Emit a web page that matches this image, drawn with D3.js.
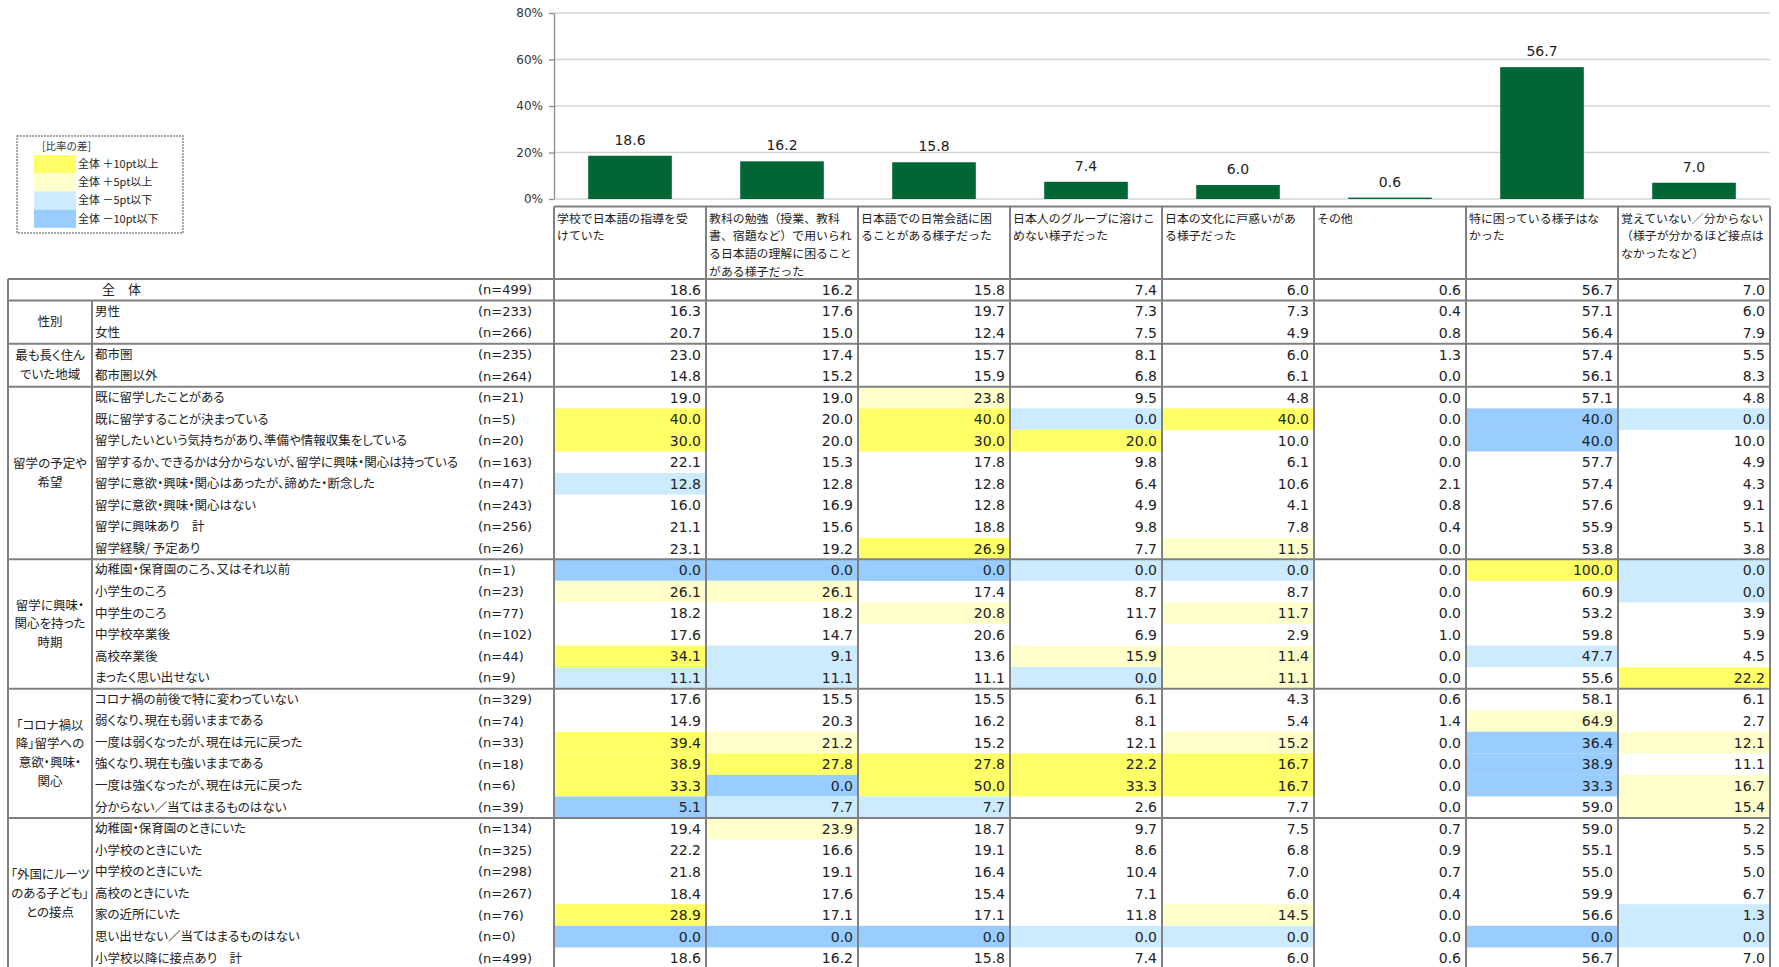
<!DOCTYPE html>
<html><head><meta charset="utf-8">
<script src="https://cdn.jsdelivr.net/npm/d3@7"></script>
<style>
body{margin:0;background:#fff;}
svg{display:block;}
</style></head><body>
<svg id="chart" width="1779" height="967"></svg>
<script>
// ---------- DATA ----------
const columns = [
  "学校で日本語の指導を受けていた",
  "教科の勉強（授業、教科書、宿題など）で用いられる日本語の理解に困ることがある様子だった",
  "日本語での日常会話に困ることがある様子だった",
  "日本人のグループに溶けこめない様子だった",
  "日本の文化に戸惑いがある様子だった",
  "その他",
  "特に困っている様子はなかった",
  "覚えていない／分からない（様子が分かるほど接点はなかったなど）"
];
const headerLines = [
  ["学校で日本語の指導を受", "けていた"],
  ["教科の勉強（授業、教科", "書、宿題など）で用いられ", "る日本語の理解に困ること", "がある様子だった"],
  ["日本語での日常会話に困", "ることがある様子だった"],
  ["日本人のグループに溶けこ", "めない様子だった"],
  ["日本の文化に戸惑いがあ", "る様子だった"],
  ["その他"],
  ["特に困っている様子はな", "かった"],
  ["覚えていない／分からない", "（様子が分かるほど接点は", "なかったなど）"]
];
const overall = [18.6, 16.2, 15.8, 7.4, 6.0, 0.6, 56.7, 7.0];
const yTicks = [0, 20, 40, 60, 80];

const groupLabels = [
  ["全　体"],
  ["性別"],
  ["最も長く住ん", "でいた地域"],
  ["留学の予定や", "希望"],
  ["留学に興味・", "関心を持った", "時期"],
  ["「コロナ禍以", "降」留学への", "意欲・興味・", "関心"],
  ["「外国にルーツ", "のある子ども」", "との接点"]
];
const groupSizes = [1, 2, 2, 8, 6, 6, 7];

const rowLabels = [
  "",
  "男性", "女性",
  "都市圏", "都市圏以外",
  "既に留学したことがある",
  "既に留学することが決まっている",
  "留学したいという気持ちがあり、準備や情報収集をしている",
  "留学するか、できるかは分からないが、留学に興味・関心は持っている",
  "留学に意欲・興味・関心はあったが、諦めた・断念した",
  "留学に意欲・興味・関心はない",
  "留学に興味あり　計",
  "留学経験/ 予定あり",
  "幼稚園・保育園のころ、又はそれ以前",
  "小学生のころ",
  "中学生のころ",
  "中学校卒業後",
  "高校卒業後",
  "まったく思い出せない",
  "コロナ禍の前後で特に変わっていない",
  "弱くなり、現在も弱いままである",
  "一度は弱くなったが、現在は元に戻った",
  "強くなり、現在も強いままである",
  "一度は強くなったが、現在は元に戻った",
  "分からない／当てはまるものはない",
  "幼稚園・保育園のときにいた",
  "小学校のときにいた",
  "中学校のときにいた",
  "高校のときにいた",
  "家の近所にいた",
  "思い出せない／当てはまるものはない",
  "小学校以降に接点あり　計"
];
const rowN = [499, 233, 266, 235, 264, 21, 5, 20, 163, 47, 243, 256, 26,
  1, 23, 77, 102, 44, 9, 329, 74, 33, 18, 6, 39, 134, 325, 298, 267, 76, 0, 499];

const rowValues = [
  [18.6, 16.2, 15.8, 7.4, 6.0, 0.6, 56.7, 7.0],
  [16.3, 17.6, 19.7, 7.3, 7.3, 0.4, 57.1, 6.0],
  [20.7, 15.0, 12.4, 7.5, 4.9, 0.8, 56.4, 7.9],
  [23.0, 17.4, 15.7, 8.1, 6.0, 1.3, 57.4, 5.5],
  [14.8, 15.2, 15.9, 6.8, 6.1, 0.0, 56.1, 8.3],
  [19.0, 19.0, 23.8, 9.5, 4.8, 0.0, 57.1, 4.8],
  [40.0, 20.0, 40.0, 0.0, 40.0, 0.0, 40.0, 0.0],
  [30.0, 20.0, 30.0, 20.0, 10.0, 0.0, 40.0, 10.0],
  [22.1, 15.3, 17.8, 9.8, 6.1, 0.0, 57.7, 4.9],
  [12.8, 12.8, 12.8, 6.4, 10.6, 2.1, 57.4, 4.3],
  [16.0, 16.9, 12.8, 4.9, 4.1, 0.8, 57.6, 9.1],
  [21.1, 15.6, 18.8, 9.8, 7.8, 0.4, 55.9, 5.1],
  [23.1, 19.2, 26.9, 7.7, 11.5, 0.0, 53.8, 3.8],
  [0.0, 0.0, 0.0, 0.0, 0.0, 0.0, 100.0, 0.0],
  [26.1, 26.1, 17.4, 8.7, 8.7, 0.0, 60.9, 0.0],
  [18.2, 18.2, 20.8, 11.7, 11.7, 0.0, 53.2, 3.9],
  [17.6, 14.7, 20.6, 6.9, 2.9, 1.0, 59.8, 5.9],
  [34.1, 9.1, 13.6, 15.9, 11.4, 0.0, 47.7, 4.5],
  [11.1, 11.1, 11.1, 0.0, 11.1, 0.0, 55.6, 22.2],
  [17.6, 15.5, 15.5, 6.1, 4.3, 0.6, 58.1, 6.1],
  [14.9, 20.3, 16.2, 8.1, 5.4, 1.4, 64.9, 2.7],
  [39.4, 21.2, 15.2, 12.1, 15.2, 0.0, 36.4, 12.1],
  [38.9, 27.8, 27.8, 22.2, 16.7, 0.0, 38.9, 11.1],
  [33.3, 0.0, 50.0, 33.3, 16.7, 0.0, 33.3, 16.7],
  [5.1, 7.7, 7.7, 2.6, 7.7, 0.0, 59.0, 15.4],
  [19.4, 23.9, 18.7, 9.7, 7.5, 0.7, 59.0, 5.2],
  [22.2, 16.6, 19.1, 8.6, 6.8, 0.9, 55.1, 5.5],
  [21.8, 19.1, 16.4, 10.4, 7.0, 0.7, 55.0, 5.0],
  [18.4, 17.6, 15.4, 7.1, 6.0, 0.4, 59.9, 6.7],
  [28.9, 17.1, 17.1, 11.8, 14.5, 0.0, 56.6, 1.3],
  [0.0, 0.0, 0.0, 0.0, 0.0, 0.0, 0.0, 0.0],
  [18.6, 16.2, 15.8, 7.4, 6.0, 0.6, 56.7, 7.0]
];

const legendTitle = "[比率の差]";
const legendLabels = ["全体 ＋10pt以上", "全体 ＋5pt以上", "全体 －5pt以下", "全体 －10pt以下"];
const legendColors = ["#FFFF66", "#FFFFCC", "#CCEBFF", "#99CCFF"];

// ---------- DRAW ----------
const JP = "'Noto Sans CJK JP', 'Noto Sans', sans-serif";
const NUM = "'DejaVu Sans', Verdana, sans-serif";
const svg = d3.select("#chart");
const dataLeft = 554, dataRight = 1770;
const tableLeft = 8, catRight = 92;
const headerTop = 206.5, tableTop = 279, rowH = 21.56;
const lineColor = "#808080";

const x = d3.scaleBand().domain(columns).range([dataLeft, dataRight])
  .paddingInner(0.45).paddingOuter(0.225);
const xc = d3.scaleBand().domain(columns).range([dataLeft, dataRight]).padding(0);
const y = d3.scaleLinear().domain([0, 80]).range([199, 13]);

// gridlines
svg.append("g").selectAll("line").data(yTicks).join("line")
  .attr("x1", dataLeft).attr("x2", dataRight)
  .attr("y1", d => y(d)).attr("y2", d => y(d))
  .attr("stroke", "#d4d4d4").attr("stroke-width", 1.3);

// axis
const ax = svg.append("g").attr("transform", `translate(${dataLeft},0)`)
  .call(d3.axisLeft(y).tickValues(yTicks).tickFormat(d => d + "%")
    .tickSize(5).tickSizeOuter(0).tickPadding(6));
ax.select(".domain").attr("stroke", "#8c8c8c").attr("stroke-width", 1.3);
ax.selectAll(".tick line").attr("stroke", "#8c8c8c").attr("stroke-width", 1.3);
ax.selectAll("text").attr("font-family", NUM).attr("font-size", 12).attr("fill", "#333");

// bars
svg.append("g").selectAll("rect").data(columns).join("rect")
  .attr("x", d => x(d)).attr("width", x.bandwidth())
  .attr("y", (d, i) => y(overall[i]))
  .attr("height", (d, i) => y(0) - y(overall[i]))
  .attr("fill", "#006633");
svg.append("g").selectAll("text").data(columns).join("text")
  .attr("x", d => x(d) + x.bandwidth() / 2)
  .attr("y", (d, i) => y(overall[i]) - 11)
  .attr("text-anchor", "middle")
  .attr("font-family", NUM).attr("font-size", 14).attr("fill", "#222")
  .text((d, i) => overall[i].toFixed(1));

// legend
const lg = svg.append("g");
lg.append("rect").attr("x", 17).attr("y", 136).attr("width", 166).attr("height", 97)
  .attr("fill", "none").attr("stroke", "#8a8a8a").attr("stroke-width", 1.5)
  .attr("stroke-dasharray", "2,1");
lg.append("text").attr("x", 42).attr("y", 146).attr("dy", "0.35em")
  .attr("font-family", JP).attr("font-size", 10.5).attr("fill", "#333").text(legendTitle);
lg.selectAll("rect.sw").data(legendLabels).join("rect").attr("class", "sw")
  .attr("x", 34).attr("width", 42).attr("y", (d, i) => 155 + i * 18.2).attr("height", 18.2)
  .attr("fill", (d, i) => legendColors[i]);
lg.selectAll("text.lt").data(legendLabels).join("text").attr("class", "lt")
  .attr("x", 78).attr("y", (d, i) => 155 + i * 18.2 + 9.1).attr("dy", "0.35em")
  .attr("font-family", JP).attr("font-size", 11).attr("fill", "#222").text(d => d);

// header
const hd = svg.append("g");
columns.forEach((c, j) => {
  headerLines[j].forEach((ln, k) => {
    hd.append("text").attr("x", xc(c) + 3).attr("y", headerTop + 16 + k * 17.8)
      .attr("font-family", JP).attr("font-size", 11.9).attr("fill", "#222").text(ln);
  });
});

// rows: cell backgrounds
const nRows = rowValues.length;
const rowTop = i => tableTop + i * rowH;
function diffColor(v, base) {
  const d = Math.round((v - base) * 10);
  if (d >= 100) return legendColors[0];
  if (d >= 50) return legendColors[1];
  if (d <= -100) return legendColors[3];
  if (d <= -50) return legendColors[2];
  return null;
}
const cells = [];
rowValues.forEach((r, i) => r.forEach((v, j) => cells.push({ i, j, v, c: diffColor(v, rowValues[0][j]) })));
svg.append("g").selectAll("rect").data(cells.filter(d => d.c)).join("rect")
  .attr("x", d => xc(columns[d.j])).attr("width", xc.bandwidth())
  .attr("y", d => rowTop(d.i)).attr("height", rowH).attr("fill", d => d.c);

// group starts
const groupStart = [];
let acc = 0;
groupSizes.forEach(s => { groupStart.push(acc); acc += s; });
const tableBottom = rowTop(nRows);

// borders
const bd = svg.append("g").attr("stroke", lineColor).attr("stroke-width", 2);
bd.append("line").attr("x1", dataLeft).attr("x2", dataRight).attr("y1", headerTop).attr("y2", headerTop);
groupStart.forEach(s => {
  bd.append("line").attr("x1", tableLeft).attr("x2", dataRight).attr("y1", rowTop(s)).attr("y2", rowTop(s));
});
bd.append("line").attr("x1", tableLeft).attr("x2", dataRight).attr("y1", tableBottom).attr("y2", tableBottom);
bd.append("line").attr("x1", tableLeft).attr("x2", tableLeft).attr("y1", tableTop).attr("y2", tableBottom);
bd.append("line").attr("x1", catRight).attr("x2", catRight).attr("y1", rowTop(1)).attr("y2", tableBottom);
columns.concat([null]).forEach((c, j) => {
  const xx = c ? xc(c) : dataRight;
  bd.append("line").attr("x1", xx).attr("x2", xx).attr("y1", headerTop).attr("y2", tableBottom);
});

// group labels
const gl = svg.append("g");
groupLabels.forEach((lines, g) => {
  if (g === 0) {
    gl.append("text").attr("x", 102).attr("y", rowTop(0) + rowH / 2).attr("dy", "0.35em")
      .attr("font-family", JP).attr("font-size", 13).attr("fill", "#222").text(lines[0]);
    return;
  }
  const cy = rowTop(groupStart[g]) + groupSizes[g] * rowH / 2;
  const sp = 18.7;
  lines.forEach((ln, k) => {
    gl.append("text").attr("x", (tableLeft + catRight) / 2)
      .attr("y", cy + (k - (lines.length - 1) / 2) * sp).attr("dy", "0.35em")
      .attr("text-anchor", "middle").attr("font-family", JP).attr("font-size", 12.5)
      .style("font-feature-settings", "'palt'").attr("fill", "#222").text(ln);
  });
});

// row labels, n, values
const tx = svg.append("g");
rowLabels.forEach((lb, i) => {
  const cy = rowTop(i) + rowH / 2;
  if (lb) tx.append("text").attr("x", 95).attr("y", cy).attr("dy", "0.35em")
    .attr("font-family", JP).attr("font-size", 12.5).style("font-feature-settings", "'palt'")
    .attr("fill", "#222").text(lb);
  tx.append("text").attr("x", 478).attr("y", cy).attr("dy", "0.35em")
    .attr("font-family", NUM).attr("font-size", 13).attr("fill", "#222").text("(n=" + rowN[i] + ")");
});
tx.selectAll("text.v").data(cells).join("text").attr("class", "v")
  .attr("x", d => xc(columns[d.j]) + xc.bandwidth() - 5)
  .attr("y", d => rowTop(d.i) + rowH / 2).attr("dy", "0.36em")
  .attr("text-anchor", "end").attr("font-family", NUM).attr("font-size", 14).attr("fill", "#222")
  .text(d => d.v.toFixed(1));
</script>
</body></html>
